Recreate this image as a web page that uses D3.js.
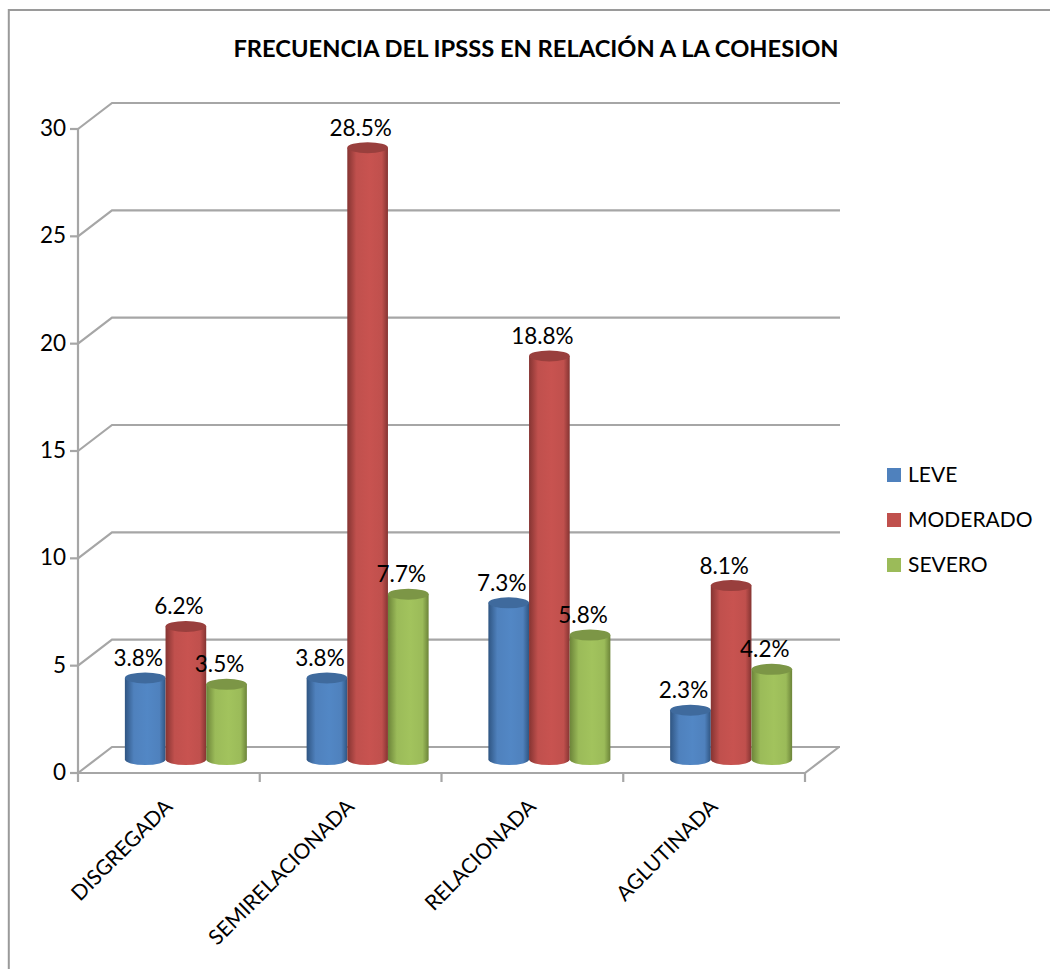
<!DOCTYPE html>
<html><head><meta charset="utf-8">
<script src="https://cdn.jsdelivr.net/npm/d3@7/dist/d3.min.js"></script>
<style>html,body{margin:0;padding:0;background:#fff}svg{display:block}text{font-family:Lato,"Open Sans",sans-serif;fill:#000}</style>
</head><body><svg id="c" width="1050" height="969"></svg>
<script>
const categories = ["DISGREGADA","SEMIRELACIONADA","RELACIONADA","AGLUTINADA"];
const seriesNames = ["LEVE","MODERADO","SEVERO"];
const leve = [3.8,3.8,7.3,2.3];
const moderado = [6.2,28.5,18.8,8.1];
const severo = [3.5,7.7,5.8,4.2];
const yTicks = [0,5,10,15,20,25,30];
const colors = ["#4f81bd","#c0504d","#9bbb59"];
const edge = ["#2f5582","#853432","#6c8439"];
const topc = ["#3f6a9d","#993f3d","#7c9646"];
const title = "FRECUENCIA DEL IPSSS EN RELACIÓN A LA COHESION";

const svg = d3.select("#c");
const W=1050,H=969, depthX=34, depthY=26, L=78, R=805, B=773, T=129;
const y = d3.scaleLinear().domain([0,30]).range([B,T]);
const x = d3.scaleBand().domain(categories).range([L,R]);
const barY = v => y(v)-13.5;
const series = d3.scaleBand().domain(seriesNames).range([0,122]);
const grid="#a6a6a6";

// frame
svg.append("path").attr("d",`M8.8,${H}V10H${W}`).attr("fill","none").attr("stroke","#9a9a9a").attr("stroke-width",2);

// gradients
const defs = svg.append("defs");
colors.forEach((c,i)=>{
  const g = defs.append("linearGradient").attr("id","g"+i);
  g.append("stop").attr("offset","0%").attr("stop-color",edge[i]);
  g.append("stop").attr("offset","22%").attr("stop-color",c);
  g.append("stop").attr("offset","55%").attr("stop-color",d3.color(c).brighter(0.12));
  g.append("stop").attr("offset","85%").attr("stop-color",c);
  g.append("stop").attr("offset","100%").attr("stop-color",edge[i]);
});

// back wall gridlines + side wall
const gr = svg.append("g").attr("stroke",grid).attr("stroke-width",2.2).attr("fill","none");
yTicks.forEach(t=>{
  gr.append("path").attr("d",`M${L},${y(t)}L${L+depthX},${y(t)-depthY}H${R+depthX+1}`);
  gr.append("line").attr("x1",L-8).attr("x2",L).attr("y1",y(t)).attr("y2",y(t));
});
gr.append("line").attr("x1",L).attr("x2",L).attr("y1",T).attr("y2",B+9);
gr.append("path").attr("d",`M${L},${B}H${R}L${R+depthX},${B-depthY}`);
x.domain().forEach(c=>gr.append("line").attr("x1",x(c)+x.bandwidth()).attr("x2",x(c)+x.bandwidth()).attr("y1",B).attr("y2",B+9));

// y tick labels
svg.append("g").selectAll("text").data(yTicks).join("text")
  .attr("x",66).attr("y",d=>y(d)+7).attr("text-anchor","end").attr("font-size",22.5).text(d=>d);

// bars
const all=[leve,moderado,severo];
const bars=[];
categories.forEach((c,ci)=>seriesNames.forEach((s,si)=>bars.push({c,s,si,v:all[si][ci]})));
const bw=series.bandwidth();
const bx=d=>x(d.c)+x.bandwidth()/2+17-61+series(d.s);
const ry=5.5;
const barG=svg.append("g");
bars.forEach(d=>{
  const g=barG.append("g");
  const x0=bx(d), x1=x0+bw, yt=barY(d.v), yb=barY(0);
  g.append("path")
   .attr("d",`M${x0},${yt}V${yb}A${bw/2},${ry} 0 0 0 ${x1},${yb}V${yt}Z`)
   .attr("fill",`url(#g${d.si})`);
  g.append("ellipse").attr("cx",x0+bw/2).attr("cy",yt).attr("rx",bw/2).attr("ry",ry).attr("fill",topc[d.si]);
});
// labels
svg.append("g").selectAll("text").data(bars).join("text")
  .attr("x",d=>bx(d)+bw/2-7).attr("y",d=>barY(d.v)-12)
  .attr("text-anchor","middle").attr("font-size",22.5)
  .text(d=>d.v.toFixed(1)+"%");

// category labels
svg.append("g").selectAll("text").data(categories).join("text")
  .attr("text-anchor","end").attr("font-size",21)
  .attr("transform",c=>`translate(${x(c)+x.bandwidth()/2+5},${B+35}) rotate(-45)`)
  .text(c=>c);

// title
svg.append("text").attr("x",536).attr("y",57).attr("text-anchor","middle")
  .attr("font-size",23.7).attr("font-weight",700).text(title);

// legend
const lg=d3.scalePoint().domain(seriesNames).range([475,565]);
seriesNames.forEach((s,i)=>{
  svg.append("rect").attr("x",887).attr("y",lg(s)-7).attr("width",14).attr("height",14).attr("fill",colors[i]);
  svg.append("text").attr("x",908).attr("y",lg(s)+7).attr("font-size",21).text(s);
});
</script></body></html>
